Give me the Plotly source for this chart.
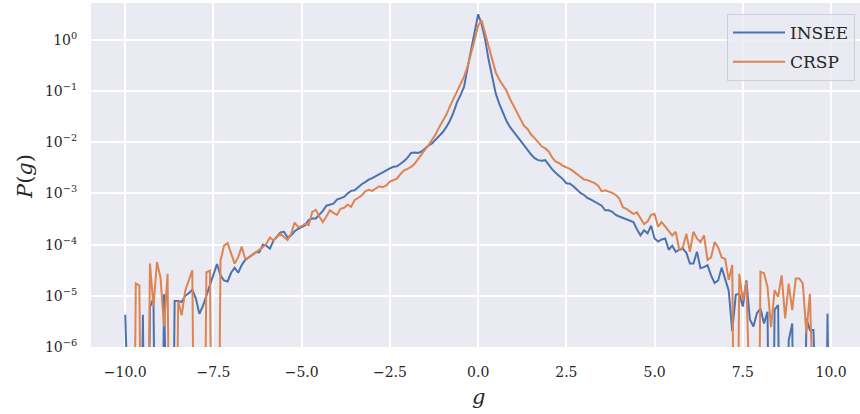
import numpy as np
import plotly.graph_objects as go

# Growth-rate bins, g = -10.0 ... 10.0 in steps of 0.1
g_start, g_step, n_bins = -10.0, 0.1, 201
g = [round(g_start + i * g_step, 1) for i in range(n_bins)]

# log10 of the empirical density P(g); None marks an empty bin
insee_log10p = [
    -5.37, None, None, None, None, -5.37, None, -5.22, -5.05, None,      # -10.0 .. -9.1
    None, -4.97, None, None, -5.10, -5.10, -5.12, -5.00, -4.95, -4.88,   # -9.0 .. -8.1
    -5.05, -5.35, -5.20, -5.00, -4.80, -4.60, -4.38, -4.60, -4.70, -4.72,  # -8.0 .. -7.1
    -4.55, -4.45, -4.55, -4.40, -4.30, -4.25, -4.20, -4.15, -4.15, -4.00,  # -7.0 .. -6.1
    -4.02, -4.08, -3.92, -3.85, -3.76, -3.75, -3.86, -3.82, -3.74, -3.69,  # -6.0 .. -5.1
    -3.66, -3.62, -3.52, -3.49, -3.49, -3.42, -3.34, -3.24, -3.22, -3.20,  # -5.0 .. -4.1
    -3.12, -3.09, -3.07, -3.00, -2.95, -2.94, -2.88, -2.82, -2.78, -2.73,  # -4.0 .. -3.1
    -2.70, -2.66, -2.63, -2.59, -2.55, -2.51, -2.48, -2.47, -2.42, -2.37,  # -3.0 .. -2.1
    -2.30, -2.21, -2.20, -2.21, -2.18, -2.12, -2.06, -2.02, -1.95, -1.88,  # -2.0 .. -1.1
    -1.80, -1.70, -1.58, -1.42, -1.22, -1.08, -0.92, -0.55, -0.18, 0.15,   # -1.0 .. -0.1
    0.50,                                                                   # 0.0
    0.30, 0.00, -0.40, -0.72, -1.05, -1.25, -1.43, -1.58, -1.70, -1.78,    # 0.1 .. 1.0
    -1.88, -1.97, -2.07, -2.15, -2.24, -2.31, -2.35, -2.36, -2.35, -2.45,  # 1.1 .. 2.0
    -2.53, -2.60, -2.66, -2.72, -2.80, -2.81, -2.86, -2.92, -2.99, -3.03,  # 2.1 .. 3.0
    -3.09, -3.12, -3.16, -3.19, -3.24, -3.33, -3.33, -3.36, -3.42, -3.45,  # 3.1 .. 4.0
    -3.48, -3.50, -3.53, -3.56, -3.70, -3.82, -3.72, -3.78, -3.63, -3.88,  # 4.1 .. 5.0
    -3.94, -3.90, -3.88, -4.10, -4.02, -4.14, -4.10, -4.08, -4.16, -4.37,  # 5.1 .. 6.0
    -4.37, -4.14, -4.46, -4.44, -4.40, -4.60, -4.75, -4.70, -4.45, -4.69,  # 6.1 .. 7.0
    -4.90, -5.69, -4.98, -4.96, -5.21, -4.70, -5.46, -5.60, -5.34, -5.25,  # 7.1 .. 8.0
    -5.54, -5.31, None, -5.27, -5.18, None, None, -5.87, -5.54, None,      # 8.1 .. 9.0
    None, None, -5.44, -5.67, -5.67, None, None, None, -5.35, None,        # 9.1 .. 10.0
]

crsp_log10p = [
    None, None, None, -4.76, -4.80, None, None, -4.37, -5.20, -4.34,       # -10.0 .. -9.1
    -4.65, -5.60, -4.57, None, None, -5.10, -5.38, -4.90, -4.70, -4.50,    # -9.0 .. -8.1
    None, None, None, -4.54, -4.51, None, None, -4.31, -4.02, -3.97,       # -8.0 .. -7.1
    -4.18, -4.37, -4.25, -4.04, -4.28, -4.25, -4.20, -4.15, -4.10, -4.05,  # -7.0 .. -6.1
    -3.98, -3.86, -3.92, -3.86, -3.79, -3.85, -3.91, -3.79, -3.57, -3.66,  # -6.0 .. -5.1
    -3.64, -3.59, -3.62, -3.36, -3.32, -3.45, -3.56, -3.45, -3.33, -3.38,  # -5.0 .. -4.1
    -3.42, -3.30, -3.28, -3.22, -3.26, -3.13, -3.08, -3.04, -2.96, -2.93,  # -4.0 .. -3.1
    -2.95, -2.90, -2.86, -2.88, -2.84, -2.77, -2.74, -2.71, -2.62, -2.55,  # -3.0 .. -2.1
    -2.52, -2.48, -2.42, -2.32, -2.24, -2.14, -2.05, -1.95, -1.84, -1.70,  # -2.0 .. -1.1
    -1.58, -1.46, -1.30, -1.15, -1.00, -0.86, -0.72, -0.52, -0.28, 0.00,   # -1.0 .. -0.1
    0.28,                                                                   # 0.0
    0.38, 0.12, -0.13, -0.40, -0.64, -0.78, -0.88, -0.99, -1.15, -1.28,    # 0.1 .. 1.0
    -1.42, -1.55, -1.68, -1.74, -1.85, -1.92, -2.00, -2.08, -2.12, -2.18,  # 1.1 .. 2.0
    -2.30, -2.38, -2.41, -2.46, -2.49, -2.52, -2.57, -2.62, -2.68, -2.73,  # 2.1 .. 3.0
    -2.74, -2.77, -2.80, -2.85, -2.96, -2.94, -2.96, -2.99, -3.03, -3.10,  # 3.1 .. 4.0
    -3.27, -3.30, -3.35, -3.40, -3.37, -3.50, -3.60, -3.55, -3.42, -3.40,  # 4.1 .. 5.0
    -3.65, -3.56, -3.65, -3.72, -3.82, -3.75, -4.11, -4.05, -3.79, -4.14,  # 5.1 .. 6.0
    -3.75, -3.88, -3.95, -3.82, -4.30, -4.25, -3.95, -4.05, -4.25, -4.28,  # 6.1 .. 7.0
    -4.69, -4.40, None, -4.57, -5.09, -4.73, None, None, None, -4.53,      # 7.1 .. 8.0
    -4.56, -4.83, -5.61, -4.89, -5.02, -4.60, -5.44, -4.76, -5.28, -4.66,  # 8.1 .. 9.0
    -4.66, -4.76, -5.73, -4.96, None, None, None, None, None, None,        # 9.1 .. 10.0
]

series_names = ["INSEE", "CRSP"]
series_colors = ["#4c72b0", "#dd8452"]

x_tick_vals = [-10.0, -7.5, -5.0, -2.5, 0.0, 2.5, 5.0, 7.5, 10.0]
y_tick_exponents = [-6, -5, -4, -3, -2, -1, 0]


def density(log_vals):
    # empty bins have zero density
    return [0.0 if v is None else 10.0 ** v for v in log_vals]


def on_log_axis(p):
    # zero density sits far below the visible range, so the line dives off the bottom
    return [v if v > 0 else 1e-12 for v in p]


font_family = "DejaVu Serif"
text_color = "#262626"

fig = go.Figure()
for i, (name, logs) in enumerate(zip(series_names, [insee_log10p, crsp_log10p])):
    fig.add_trace(go.Scatter(
        x=g, y=on_log_axis(density(logs)), mode="lines", name=name,
        legendgroup=name,
        line=dict(color=series_colors[i], width=2),
    ))


def fmt_tick(v):
    s = f"{v:.1f}"
    return s.replace("-", "\u2212")


fig.update_layout(
    width=860, height=414,
    margin=dict(l=91, r=0, t=3, b=67),
    paper_bgcolor="white",
    plot_bgcolor="#eaeaf2",
    font=dict(family=font_family, size=14, color=text_color),
    showlegend=True,
    legend=dict(
        x=0.9935, y=0.968, xanchor="right", yanchor="top",
        bgcolor="rgba(234,234,242,0.8)", bordercolor="#cfcfd6", borderwidth=1,
        font=dict(family=font_family, size=17, color=text_color),
        traceorder="grouped", tracegroupgap=4,
        itemwidth=52,
    ),
    xaxis=dict(
        range=[-10.97, 10.82],
        tickvals=x_tick_vals,
        ticktext=[fmt_tick(v) for v in x_tick_vals],
        showgrid=True, gridcolor="white", gridwidth=1.5,
        zeroline=False, showline=False,
        ticks="outside", ticklen=12, tickcolor="rgba(0,0,0,0)",
        tickfont=dict(size=14, color=text_color),
    ),
    yaxis=dict(
        type="log",
        range=[-6.0, 0.72],
        tickvals=[10.0 ** e for e in y_tick_exponents],
        ticktext=["10<sup>" + str(e).replace("-", "\u2212") + "</sup>" for e in y_tick_exponents],
        showgrid=True, gridcolor="white", gridwidth=1.5,
        zeroline=False, showline=False,
        ticks="outside", ticklen=10, tickcolor="rgba(0,0,0,0)",
        tickfont=dict(size=14, color=text_color),
    ),
    annotations=[
        dict(text="<i>g</i>", xref="paper", yref="paper",
             x=(478 - 91) / 769, y=-(397 - 347) / 344,
             xanchor="center", yanchor="middle", showarrow=False,
             font=dict(family=font_family, size=21, color=text_color)),
        dict(text="<i>P</i>(<i>g</i>)", xref="paper", yref="paper",
             x=(25 - 91) / 769, y=1 - (177 - 3) / 344, textangle=-90,
             xanchor="center", yanchor="middle", showarrow=False,
             font=dict(family=font_family, size=21, color=text_color)),
    ],
)

fig.write_html("out.html")
